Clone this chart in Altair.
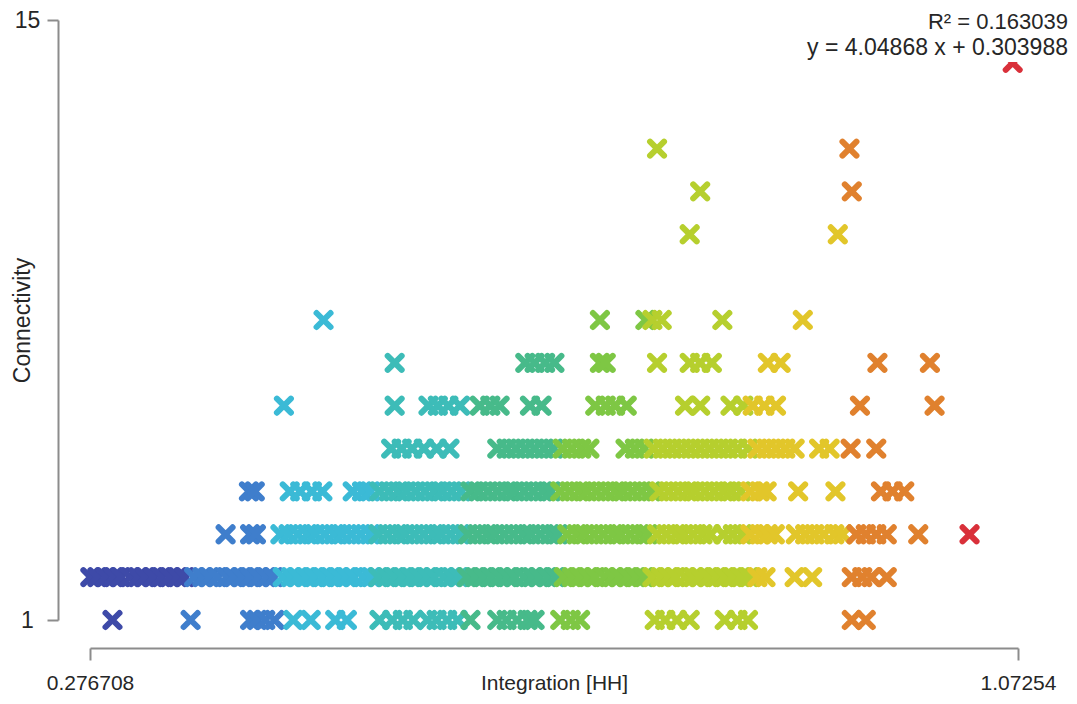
import altair as alt
import pandas as pd

# ---------------- data ----------------
x_domain = [0.276708, 1.07254]
y_domain = [1, 15]
x_tick_values = [0.276708, 1.07254]
y_tick_values = [1, 15]

conn1_x = [0.296, 0.363, 0.414, 0.420, 0.427, 0.435, 0.451, 0.466, 0.487, 0.497,
           0.525, 0.536, 0.545, 0.554, 0.566, 0.574, 0.583, 0.592, 0.603,
           0.626, 0.634, 0.643, 0.652, 0.658, 0.680, 0.689, 0.697,
           0.761, 0.770, 0.780, 0.791, 0.821, 0.832, 0.841, 0.930, 0.942]

conn2_x = [0.277, 0.283, 0.290, 0.297, 0.303, 0.311, 0.318, 0.324, 0.331, 0.338,
           0.345, 0.352, 0.358, 0.366, 0.373, 0.379, 0.386, 0.394, 0.400, 0.407,
           0.414, 0.421, 0.428, 0.434, 0.442, 0.449, 0.455, 0.462, 0.469, 0.476,
           0.483, 0.490, 0.497, 0.503, 0.511, 0.518, 0.524, 0.531, 0.538, 0.545,
           0.552, 0.559, 0.566, 0.572, 0.580, 0.587, 0.593, 0.600, 0.607, 0.614,
           0.621, 0.628, 0.635, 0.641, 0.649, 0.656, 0.662, 0.669, 0.676, 0.683,
           0.690, 0.697, 0.704, 0.710, 0.718, 0.725, 0.731, 0.738, 0.745, 0.752,
           0.759, 0.766, 0.773, 0.779, 0.787, 0.794, 0.800, 0.807, 0.814, 0.821,
           0.828, 0.835, 0.842, 0.849, 0.856,
           0.881, 0.896, 0.930, 0.939, 0.947, 0.960]

conn3_x = [0.393, 0.414, 0.419,
           0.440, 0.447, 0.455, 0.463, 0.470, 0.478, 0.486, 0.493, 0.501, 0.509,
           0.517, 0.524, 0.532, 0.540, 0.547, 0.555, 0.563, 0.571, 0.578, 0.586,
           0.594, 0.601, 0.609, 0.617, 0.624, 0.632, 0.640, 0.648, 0.655, 0.663,
           0.671, 0.678, 0.686, 0.694, 0.701, 0.709, 0.717, 0.725, 0.732, 0.740,
           0.748, 0.755, 0.763, 0.771, 0.779, 0.786, 0.794, 0.802, 0.809, 0.820,
           0.828, 0.836, 0.843, 0.851, 0.858, 0.864,
           0.882, 0.890, 0.898, 0.906, 0.915, 0.922,
           0.934, 0.942, 0.951, 0.960, 0.987, 1.031]

conn4_x = [0.413, 0.418, 0.448, 0.457, 0.467, 0.476,
           0.502, 0.510, 0.517, 0.525, 0.533, 0.541, 0.548, 0.556, 0.564, 0.572,
           0.579, 0.587, 0.595, 0.603, 0.610, 0.618, 0.626, 0.634, 0.641, 0.649,
           0.657, 0.665, 0.672, 0.680, 0.688, 0.696, 0.703, 0.711, 0.719, 0.727,
           0.734, 0.742, 0.750, 0.758, 0.765, 0.773, 0.781, 0.789, 0.796, 0.804,
           0.812, 0.820, 0.827, 0.835, 0.843, 0.851, 0.857,
           0.884, 0.916, 0.955, 0.965, 0.975]

conn5_x = [0.535, 0.544, 0.553, 0.563, 0.574, 0.585,
           0.626, 0.634, 0.642, 0.650, 0.658, 0.666, 0.674, 0.682, 0.690, 0.698, 0.705,
           0.736, 0.744, 0.752, 0.760, 0.768, 0.776, 0.784, 0.792, 0.800, 0.808,
           0.816, 0.824, 0.832, 0.841, 0.849, 0.857, 0.865, 0.873, 0.881,
           0.902, 0.911, 0.929, 0.951]

conn6_x = [0.443, 0.538, 0.567, 0.575, 0.584, 0.594, 0.611, 0.620, 0.628,
           0.654, 0.664, 0.710, 0.719, 0.727, 0.737,
           0.787, 0.800, 0.826, 0.837, 0.845, 0.855, 0.865, 0.937, 1.001]

conn7_x = [0.538, 0.650, 0.658, 0.667, 0.675, 0.714, 0.719, 0.763,
           0.791, 0.800, 0.810, 0.858, 0.869, 0.952, 0.997]

conn8_x = [0.477, 0.714, 0.753, 0.759, 0.767, 0.819, 0.888]

conn10_x = [0.791, 0.918]
conn11_x = [0.800, 0.930]
conn12_x = [0.763, 0.928]
conn14_x = [1.068]

rows = [(1, conn1_x), (2, conn2_x), (3, conn3_x), (4, conn4_x), (5, conn5_x),
        (6, conn6_x), (7, conn7_x), (8, conn8_x), (10, conn10_x),
        (11, conn11_x), (12, conn12_x), (14, conn14_x)]

# colour classes of Integration (blue -> red)
color_breaks = [0.359, 0.4396, 0.5185, 0.5992, 0.6781, 0.7587, 0.8427, 0.925, 1.0125]
palette = ["#3e4aa8", "#3f7ecc", "#3bbad6", "#3dbcb8", "#47ba8a",
           "#7ec744", "#b6cf2e", "#e2c62a", "#e0812e", "#d9303a"]

r2_label = "R\u00b2 = 0.163039"
fit_label = "y = 4.04868 x + 0.303988"

records = []
for yv, xs in rows:
    for xv in xs:
        records.append({"Integration": xv, "Connectivity": yv})
df = pd.DataFrame(records)

FONT = "Liberation Sans"
TXT = "#262626"
FS = 23
FSX = 21

points = alt.Chart(df).mark_point(
    shape="M-1,-1L1,1M-1,1L1,-1", filled=False, strokeWidth=6,
    size=196, opacity=1, strokeCap="round"
).encode(
    x=alt.X("Integration:Q",
            scale=alt.Scale(domain=x_domain, nice=False, zero=False),
            axis=alt.Axis(values=x_tick_values, title="Integration [HH]",
                          offset=28, tickSize=12, labelPadding=23,
                          labelBaseline="middle", labelFlush=False,
                          labelOverlap=False, labelBound=False,
                          labelFontSize=FSX, titleFontSize=FSX,
                          labelExpr="format(datum.value, '.6~g')",
                          titleY=35, titleBaseline="middle", titleAnchor="middle")),
    y=alt.Y("Connectivity:Q",
            scale=alt.Scale(domain=y_domain, nice=False, zero=False),
            axis=alt.Axis(values=y_tick_values, title="Connectivity",
                          offset=32, tickSize=11, labelPadding=20,
                          labelAlign="center", labelBaseline="middle",
                          labelOverlap=False, labelFlush=False, labelBound=False,
                          format="d",
                          titleX=-36, titleY=300, titleAngle=270,
                          titleAlign="center", titleBaseline="middle")),
    color=alt.Color("Integration:Q",
                    scale=alt.Scale(type="threshold", domain=color_breaks, range=palette),
                    legend=None),
)

box = alt.Chart(pd.DataFrame({"k": [0]})).mark_rect(color="white").encode(
    x=alt.value(705), x2=alt.value(1000), y=alt.value(-12), y2=alt.value(42)
)

t1 = alt.Chart(pd.DataFrame({"label": [r2_label]})).mark_text(
    align="right", baseline="middle", font=FONT, fontSize=22, color=TXT
).encode(x=alt.value(978), y=alt.value(2), text="label:N")

t2 = alt.Chart(pd.DataFrame({"label": [fit_label]})).mark_text(
    align="right", baseline="middle", font=FONT, fontSize=FS, color=TXT
).encode(x=alt.value(978), y=alt.value(28), text="label:N")

chart = alt.layer(points, box, t1, t2).properties(
    width=928, height=600,
    autosize=alt.AutoSizeParams(type="none"),
    padding={"left": 82, "top": 12, "right": 50, "bottom": 76},
).configure_view(stroke=None).configure_axis(
    grid=False, domainColor="#8c8c8c", domainWidth=2,
    tickColor="#8c8c8c", tickWidth=2,
    labelFont=FONT, labelFontSize=FS, labelColor=TXT,
    titleFont=FONT, titleFontSize=FS, titleColor=TXT, titleFontWeight="normal",
)

chart.save("out.html", embed_options={"renderer": "svg", "actions": False})
